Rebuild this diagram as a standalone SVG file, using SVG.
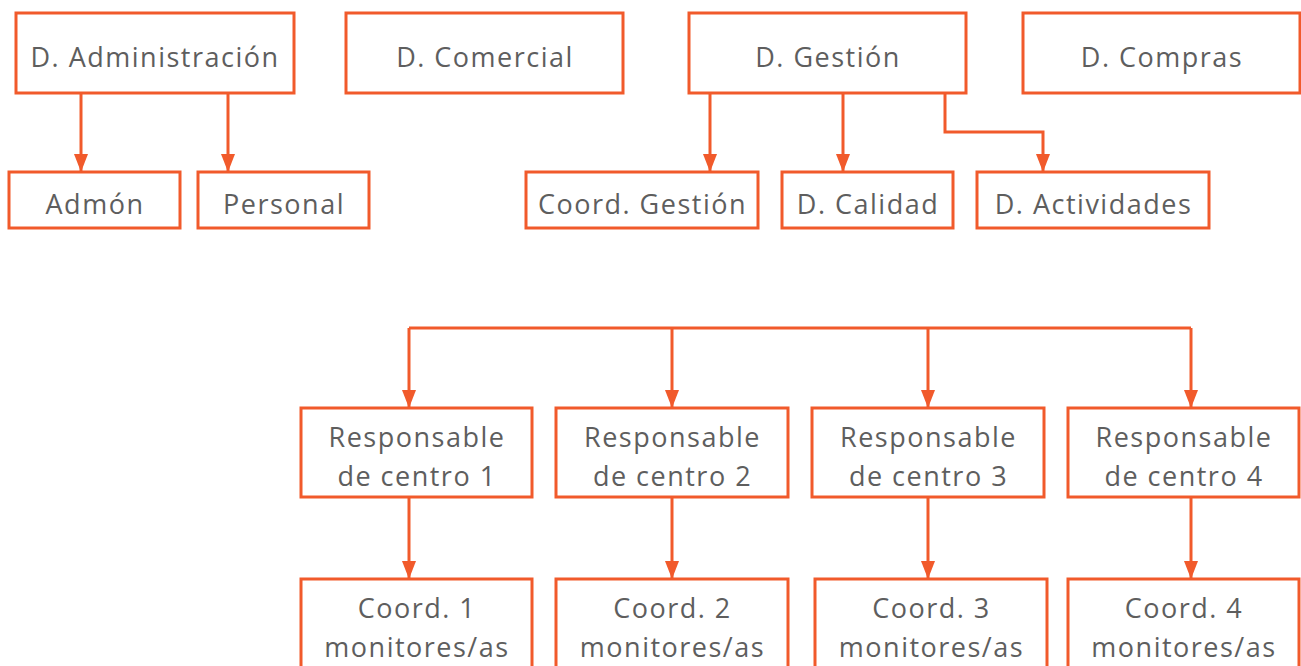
<svg xmlns="http://www.w3.org/2000/svg" width="1301" height="666" viewBox="0 0 1301 666">
<defs>
<style>
.box{fill:#fff;stroke:#F15A2B;stroke-width:3}
.t{font-family:"Open Sans","Liberation Sans",sans-serif;font-size:27px;letter-spacing:1.5px;fill:#5e5e5e;text-anchor:middle}
.c{fill:none;stroke:#F15A2B;stroke-width:3}
</style>
<marker id="av" markerUnits="userSpaceOnUse" markerWidth="18" markerHeight="14" viewBox="0 0 18 14" refX="18" refY="7" orient="auto">
<path d="M0,0 L18,7 L0,14 Z" fill="#F15A2B"/>
</marker>
</defs>
<rect width="1301" height="666" fill="#fff"/>
<g id="connectors">
<path class="c" d="M81,93 V172" marker-end="url(#av)"/>
<path class="c" d="M228,93 V172" marker-end="url(#av)"/>
<path class="c" d="M710,93 V172" marker-end="url(#av)"/>
<path class="c" d="M843,93 V172" marker-end="url(#av)"/>
<path class="c" d="M945,93 V132 H1043 V172" marker-end="url(#av)"/>
<path class="c" d="M409,328 H1191"/>
<path class="c" d="M409,328 V408" marker-end="url(#av)"/>
<path class="c" d="M672,328 V408" marker-end="url(#av)"/>
<path class="c" d="M928,328 V408" marker-end="url(#av)"/>
<path class="c" d="M1191,328 V408" marker-end="url(#av)"/>
<path class="c" d="M409,497 V579" marker-end="url(#av)"/>
<path class="c" d="M672,497 V579" marker-end="url(#av)"/>
<path class="c" d="M928,497 V579" marker-end="url(#av)"/>
<path class="c" d="M1191,497 V579" marker-end="url(#av)"/>
</g>
<g id="d-administracion"><rect class="box" x="16" y="13" width="278" height="80"/><text class="t" x="155" y="67">D. Administración</text></g>
<g id="d-comercial"><rect class="box" x="346" y="13" width="277" height="80"/><text class="t" x="485" y="67">D. Comercial</text></g>
<g id="d-gestion"><rect class="box" x="689" y="13" width="277" height="80"/><text class="t" x="828" y="67">D. Gestión</text></g>
<g id="d-compras"><rect class="box" x="1023" y="13" width="277" height="80"/><text class="t" x="1162" y="67">D. Compras</text></g>
<g id="admon"><rect class="box" x="9" y="172" width="171" height="56"/><text class="t" x="95" y="214">Admón</text></g>
<g id="personal"><rect class="box" x="198" y="172" width="171" height="56"/><text class="t" x="284" y="214">Personal</text></g>
<g id="coord-gestion"><rect class="box" x="526" y="172" width="232" height="56"/><text class="t" x="642.5" y="214">Coord. Gestión</text></g>
<g id="d-calidad"><rect class="box" x="782" y="172" width="171" height="56"/><text class="t" x="868" y="214">D. Calidad</text></g>
<g id="d-actividades"><rect class="box" x="977" y="172" width="232" height="56"/><text class="t" x="1093.5" y="214">D. Actividades</text></g>
<g id="resp1"><rect class="box" x="301" y="408" width="231" height="89"/><text class="t" x="417" y="447">Responsable</text><text class="t" x="417" y="486">de centro 1</text></g>
<g id="resp2"><rect class="box" x="556" y="408" width="232" height="89"/><text class="t" x="672.5" y="447">Responsable</text><text class="t" x="672.5" y="486">de centro 2</text></g>
<g id="resp3"><rect class="box" x="812" y="408" width="232" height="89"/><text class="t" x="928.5" y="447">Responsable</text><text class="t" x="928.5" y="486">de centro 3</text></g>
<g id="resp4"><rect class="box" x="1068" y="408" width="231" height="89"/><text class="t" x="1184" y="447">Responsable</text><text class="t" x="1184" y="486">de centro 4</text></g>
<g id="coord1"><rect class="box" x="301" y="579" width="231" height="100"/><text class="t" x="417" y="618">Coord. 1</text><text class="t" x="417" y="657">monitores/as</text></g>
<g id="coord2"><rect class="box" x="556" y="579" width="232" height="100"/><text class="t" x="672.5" y="618">Coord. 2</text><text class="t" x="672.5" y="657">monitores/as</text></g>
<g id="coord3"><rect class="box" x="815" y="579" width="232" height="100"/><text class="t" x="931.5" y="618">Coord. 3</text><text class="t" x="931.5" y="657">monitores/as</text></g>
<g id="coord4"><rect class="box" x="1068" y="579" width="231" height="100"/><text class="t" x="1184" y="618">Coord. 4</text><text class="t" x="1184" y="657">monitores/as</text></g>
</svg>
